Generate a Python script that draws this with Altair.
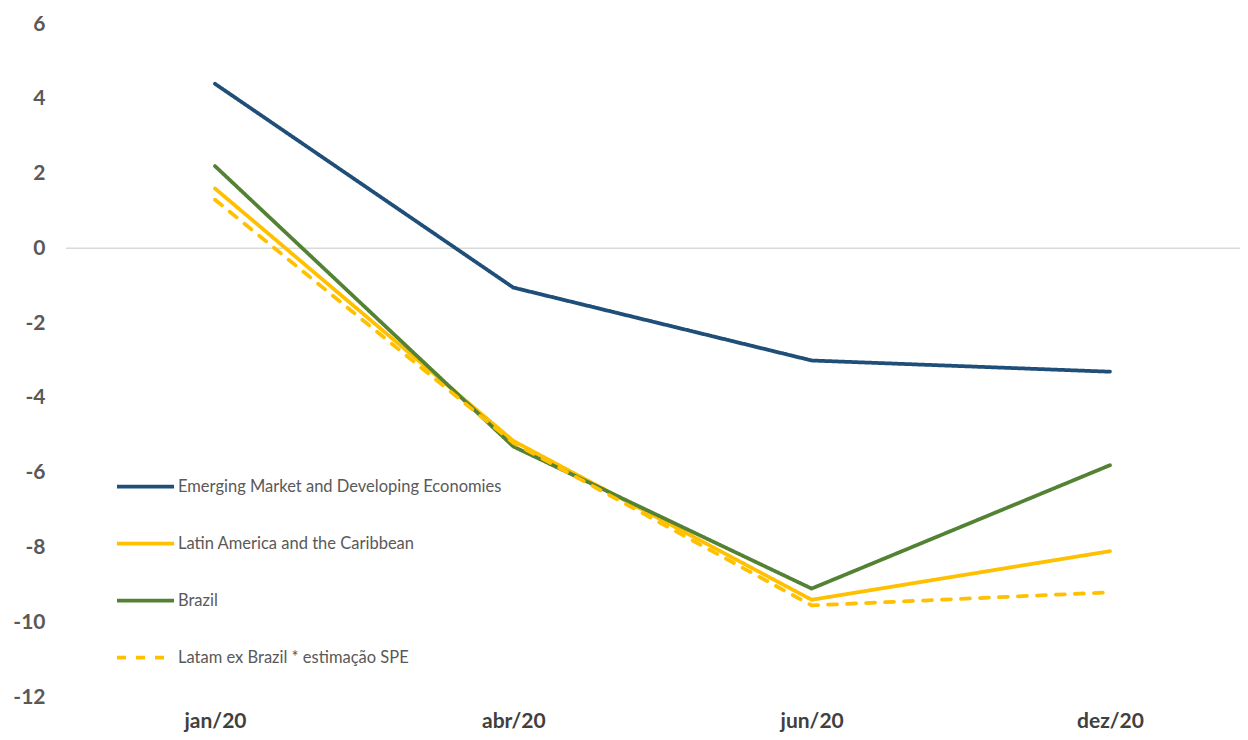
import altair as alt
import pandas as pd

months = ["jan/20", "abr/20", "jun/20", "dez/20"]
series_names = [
    "Emerging Market and Developing Economies",
    "Latin America and the Caribbean",
    "Brazil",
    "Latam ex Brazil * estimação SPE",
]
emde = [4.4, -1.05, -3.0, -3.3]
lac = [1.6, -5.15, -9.4, -8.1]
brazil = [2.2, -5.3, -9.1, -5.8]
latam_ex = [1.3, -5.2, -9.55, -9.2]

colors = ["#1F4E79", "#FFC000", "#548235", "#FFC000"]
dashes = [[1, 0], [1, 0], [1, 0], [9, 10]]

rows = []
for name, vals in zip(series_names, [emde, lac, brazil, latam_ex]):
    for m, v in zip(months, vals):
        rows.append({"month": m, "series": name, "value": v})
df = pd.DataFrame(rows)

zero_df = pd.DataFrame({"y": [0]})

x_enc = alt.X("month:N", sort=months,
              scale=alt.Scale(type="point", padding=0.4677, align=0.534),
              axis=alt.Axis(title=None, domain=False, ticks=False, labelFont="Lato",
                            labelFontSize=21, labelFontWeight="bold", labelColor="#404040",
                            labelPadding=13, labelAngle=0))
y_enc = alt.Y("value:Q", scale=alt.Scale(domain=[-12, 6], nice=False, zero=False),
              axis=alt.Axis(title=None, values=list(range(-12, 7, 2)), domain=False, ticks=False,
                            grid=False, labelFont="Lato", labelFontSize=21, labelFontWeight="bold",
                            labelColor="#595959", labelPadding=21,
                            labelExpr="toString(datum.value)"))

zero = alt.Chart(zero_df).mark_rule(color="#D9D9D9", strokeWidth=1.5).encode(
    y=alt.Y("y:Q", scale=alt.Scale(domain=[-12, 6], nice=False, zero=False))
)

lines = alt.Chart(df).mark_line(strokeWidth=3.75, strokeCap="round", strokeJoin="round").encode(
    x=x_enc,
    y=y_enc,
    color=alt.Color("series:N", sort=series_names,
                    scale=alt.Scale(domain=series_names, range=colors),
                    legend=alt.Legend(title=None, orient="none", legendX=49, legendY=432,
                                      symbolType="stroke", symbolSize=3249, symbolStrokeWidth=3.75,
                                      labelFont="Lato", labelFontSize=16.5, labelColor="#595959",
                                      labelLimit=600, labelOffset=2, rowPadding=18, padding=0,
                                      symbolOffset=0)),
    strokeDash=alt.StrokeDash("series:N", sort=series_names,
                              scale=alt.Scale(domain=series_names, range=dashes),
                              legend=None),
)

chart = alt.layer(zero, lines).properties(
    width=1174, height=673,
    padding={"left": 58, "top": 16, "right": 0, "bottom": 35},
    autosize=alt.AutoSizeParams(type="none"),
    background="white",
).configure_view(stroke=None)

chart.save("out.html", embed_options={"renderer": "svg", "actions": False})
